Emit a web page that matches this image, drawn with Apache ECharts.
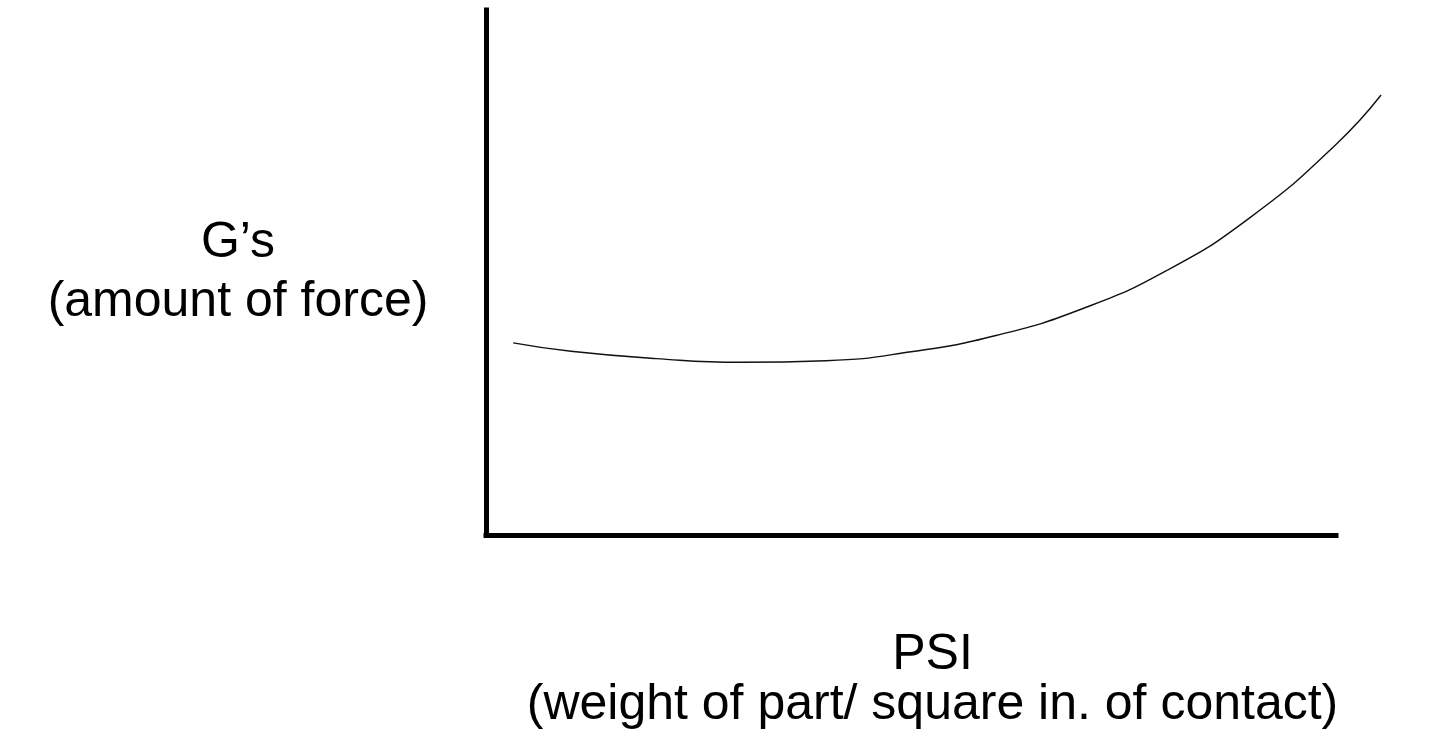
<!DOCTYPE html>
<html>
<head>
<meta charset="utf-8">
<script src="https://cdn.jsdelivr.net/npm/echarts@6/dist/echarts.min.js"></script>
<style>html,body{margin:0;padding:0;background:#fff}#c{width:1442px;height:747px}</style>
</head>
<body>
<div id="c"></div>
<script>
const psi = [3.2, 10, 20, 30, 40, 50, 60, 70, 80, 90, 100, 105.3];
const gs  = [36.6, 35.0, 33.6, 32.9, 33.2, 34.9, 38.0, 43.0, 50.3, 60.6, 74.4, 83.8];
const xAxisEnd = 100;
const xName = 'PSI\n(weight of part/ square in. of contact)';
const yName = 'G\u2019s\n(amount of force)';

const chart = echarts.init(document.getElementById('c'));
const font = '"Liberation Sans", Arial, sans-serif';
chart.setOption({
  animation: false,
  backgroundColor: '#fff',
  grid: { left: 486, right: 55, top: 10, bottom: 212 },
  xAxis: {
    type: 'value', min: 0, max: 106,
    axisLine: { show: false },
    axisTick: { show: false }, axisLabel: { show: false }, splitLine: { show: false },
    name: xName, nameLocation: 'middle', nameGap: 145,
    nameTextStyle: { color: '#000', fontSize: 50, fontFamily: font, lineHeight: 50, align: 'center', verticalAlign: 'middle', padding: [0, 8, 0, 0] }
  },
  yAxis: {
    type: 'value', min: 0, max: 100,
    axisLine: { show: true, lineStyle: { color: '#000', width: 5, cap: 'square' } },
    axisTick: { show: false }, axisLabel: { show: false }, splitLine: { show: false },
    name: yName, nameLocation: 'middle', nameRotate: 0, nameGap: 248,
    nameTextStyle: { color: '#000', fontSize: 50, fontFamily: font, lineHeight: 59, align: 'center', verticalAlign: 'middle', padding: [0, 0, 10, 0] }
  },
  series: [{
    type: 'line',
    data: psi.map((x, i) => [x, gs[i]]),
    smooth: true,
    showSymbol: false,
    lineStyle: { color: '#111', width: 1.4 },
    markLine: {
      silent: true,
      symbol: ['none', 'none'],
      label: { show: false },
      lineStyle: { color: '#000', width: 5, type: 'solid', cap: 'square' },
      data: [[{ coord: [0, 0] }, { coord: [xAxisEnd, 0] }]]
    }
  }]
});
</script>
</body>
</html>
